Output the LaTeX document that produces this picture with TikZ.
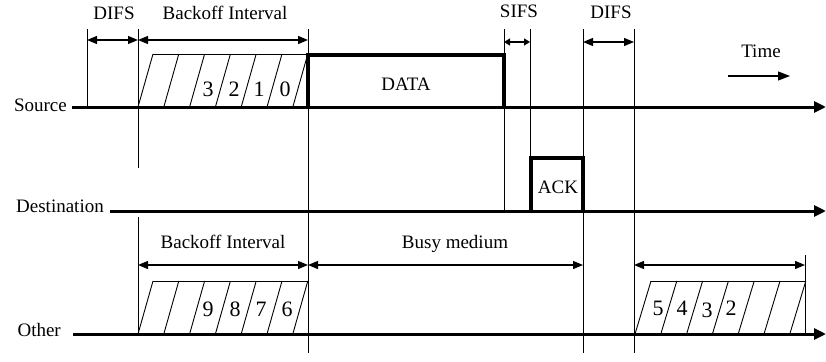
\documentclass[tikz,border=0pt]{standalone}
\usepackage{fontspec}
\setmainfont{Liberation Serif}
\usetikzlibrary{arrows.meta}
\begin{document}
\begin{tikzpicture}[x=1pt,y=-1pt,
  axis/.style={line width=3pt,-{Triangle[length=12pt,width=11pt]}},
  vline/.style={line width=0.9pt},
  thickbox/.style={line width=3.2pt,line join=miter},
  span/.style={line width=1.2pt,{Triangle[length=10pt,width=8pt]}-{Triangle[length=10pt,width=8pt]}},
  smallspan/.style={line width=1.2pt,{Triangle[length=6pt,width=7pt]}-{Triangle[length=6pt,width=7pt]}},
  timearrow/.style={line width=1.2pt,-{Triangle[length=12pt,width=9pt]}},
  hatch/.style={line width=0.9pt},
  lbl/.style={font=\fontsize{19}{22}\selectfont, inner sep=0pt},
  digit/.style={font=\fontsize{22}{24}\selectfont, inner sep=0pt}]
\useasboundingbox (0,0) rectangle (826,361);

% axes
\coordinate (s0) at (72,107);  \coordinate (s1) at (826,107);
\coordinate (d0) at (110,211); \coordinate (d1) at (826,211);
\coordinate (o0) at (73,334);  \coordinate (o1) at (826,334);
\draw[axis] (s0) -- (s1);
\draw[axis] (d0) -- (d1);
\draw[axis] (o0) -- (o1);

\node[lbl,anchor=base east] (srcl) at (67,111) {Source};
\node[lbl,anchor=base east] (dstl) at (104,212.5) {Destination};
\node[lbl,anchor=base east] (othl) at (61,336.5) {Other};

% vertical lines
\coordinate (v1a) at (87,29);  \coordinate (v1b) at (87,107);
\coordinate (v2a) at (138,29); \coordinate (v2b) at (138,168);
\coordinate (v2c) at (138,217); \coordinate (v2d) at (138,334);
\coordinate (v3a) at (308,29); \coordinate (v3b) at (308,353);
\coordinate (v4a) at (504,29); \coordinate (v4b) at (504,211);
\coordinate (v5a) at (530,29); \coordinate (v5b) at (530,158);
\coordinate (v6a) at (583,29); \coordinate (v6b) at (583,353);
\coordinate (v7a) at (634,29); \coordinate (v7b) at (634,353);
\coordinate (v8a) at (805,255); \coordinate (v8b) at (805,334);
\draw[vline] (v1a) -- (v1b);
\draw[vline] (v2a) -- (v2b);
\draw[vline] (v2c) -- (v2d);
\draw[vline] (v3a) -- (v3b);
\draw[vline] (v4a) -- (v4b);
\draw[vline] (v5a) -- (v5b);
\draw[vline] (v6a) -- (v6b);
\draw[vline] (v7a) -- (v7b);
\draw[vline] (v8a) -- (v8b);

% DATA and ACK boxes
\coordinate (da1) at (308,107); \coordinate (da2) at (308,55);
\coordinate (da3) at (504,55);  \coordinate (da4) at (504,107);
\draw[thickbox] (da1) -- (da2) -- (da3) -- (da4);
\node[lbl,anchor=base] (data) at (406,90) {DATA};
\coordinate (ak1) at (531,211); \coordinate (ak2) at (531,158);
\coordinate (ak3) at (583,158); \coordinate (ak4) at (583,211);
\draw[thickbox] (ak1) -- (ak2) -- (ak3) -- (ak4);
\node[lbl,anchor=base] (ack) at (558,193) {ACK};

% hatched backoff blocks
\foreach \k in {0,...,6} {
  \draw[hatch] ({138+25.8*\k},107) -- ({153+25.8*\k},54);
  \draw[hatch] ({138+25.8*\k},334) -- ({153+25.8*\k},281);
  \draw[hatch] ({635+25.8*\k},334) -- ({651+25.8*\k},281);
}
\coordinate (h1a) at (153,54);  \coordinate (h1b) at (308,54);
\coordinate (h2a) at (153,281); \coordinate (h2b) at (308,281);
\coordinate (h3a) at (651,281); \coordinate (h3b) at (805,281);
\draw[hatch] (h1a) -- (h1b);
\draw[hatch] (h2a) -- (h2b);
\draw[hatch] (h3a) -- (h3b);

\node[digit,anchor=base] (n3a) at (208,96.5) {3};
\node[digit,anchor=base] (n2a) at (234,96.5) {2};
\node[digit,anchor=base] (n1a) at (259,96.5) {1};
\node[digit,anchor=base] (n0a) at (285,96.5) {0};

\node[digit,anchor=base] (n9) at (208,316) {9};
\node[digit,anchor=base] (n8) at (235,316) {8};
\node[digit,anchor=base] (n7) at (261,316) {7};
\node[digit,anchor=base] (n6) at (287,316) {6};

\node[digit,anchor=base] (n5) at (658,315) {5};
\node[digit,anchor=base] (n4) at (682,315) {4};
\node[digit,anchor=base] (n3b) at (707,317) {3};
\node[digit,anchor=base] (n2b) at (731,315) {2};

% spans
\coordinate (a1) at (87,40);  \coordinate (a2) at (138,40); \coordinate (a3) at (308,40);
\coordinate (a4) at (504,42); \coordinate (a5) at (530,42);
\coordinate (a6) at (583,42); \coordinate (a7) at (634,42);
\draw[span] (a1) -- (a2);
\draw[span] (a2) -- (a3);
\draw[smallspan] (a4) -- (a5);
\draw[span] (a6) -- (a7);
\coordinate (b1) at (138,265); \coordinate (b2) at (308,265);
\coordinate (b3) at (583,265); \coordinate (b4) at (634,265); \coordinate (b5) at (805,265);
\draw[span] (b1) -- (b2);
\draw[span] (b2) -- (b3);
\draw[span] (b4) -- (b5);
\coordinate (t1) at (728,76); \coordinate (t2) at (790,76);
\draw[timearrow] (t1) -- (t2);

\node[lbl,anchor=base] (difs1) at (114,19.5) {DIFS};
\node[lbl,anchor=base] (boi1) at (225,19.5) {Backoff Interval};
\node[lbl,anchor=base] (sifs) at (519,17.5) {SIFS};
\node[lbl,anchor=base] (difs2) at (611,19) {DIFS};
\node[lbl,anchor=base] (time) at (761,57) {Time};
\node[lbl,anchor=base] (boi2) at (223,248) {Backoff Interval};
\node[lbl,anchor=base] (busy) at (455,248.5) {Busy medium};
\end{tikzpicture}
\end{document}
